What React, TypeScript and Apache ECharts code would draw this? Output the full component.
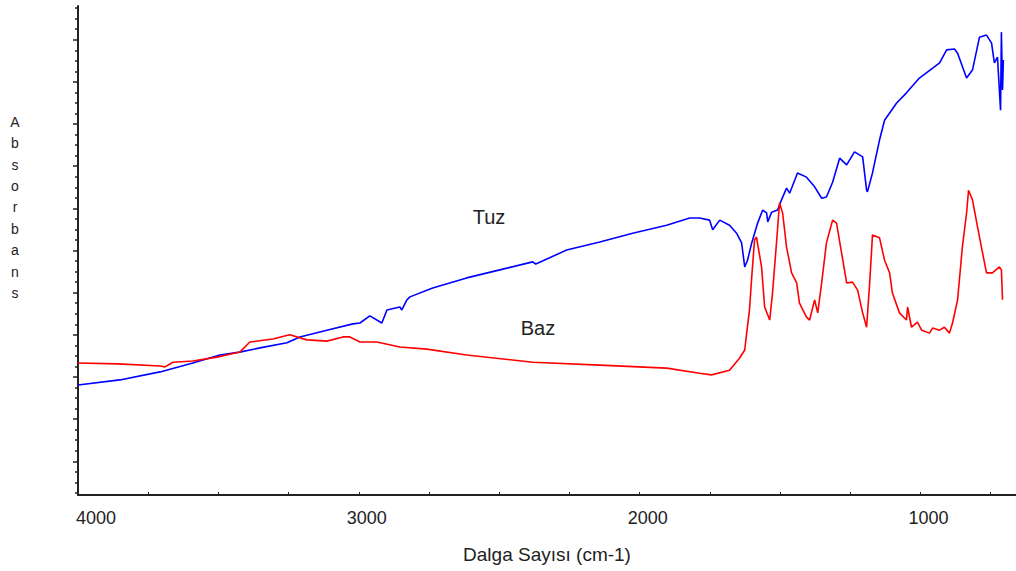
import React, { useEffect, useRef } from "react";
import * as echarts from "echarts";

// Wavenumber (cm-1) and absorbance readings
const tuzWave = [4000, 3851, 3708, 3591, 3495, 3424, 3352, 3256, 3210, 3114, 3021, 2996, 2961, 2918, 2900, 2854, 2847, 2829, 2818, 2737, 2616, 2498, 2381, 2370, 2260, 2142, 2025, 1904, 1822, 1787, 1751, 1740, 1715, 1680, 1655, 1637, 1626, 1616, 1601, 1580, 1562, 1548, 1544, 1530, 1509, 1495, 1477, 1466, 1438, 1406, 1377, 1352, 1335, 1313, 1288, 1263, 1235, 1206, 1192, 1189, 1171, 1146, 1128, 1085, 1050, 1004, 932, 907, 879, 868, 836, 815, 790, 765, 747, 737, 726, 715, 712, 708, 705];
const tuzAbs = [0.281, 0.293, 0.312, 0.333, 0.352, 0.359, 0.369, 0.381, 0.395, 0.411, 0.426, 0.428, 0.445, 0.428, 0.459, 0.466, 0.459, 0.483, 0.49, 0.511, 0.535, 0.554, 0.573, 0.568, 0.601, 0.62, 0.641, 0.66, 0.677, 0.677, 0.672, 0.649, 0.672, 0.66, 0.641, 0.618, 0.561, 0.577, 0.618, 0.665, 0.696, 0.689, 0.668, 0.691, 0.696, 0.72, 0.748, 0.736, 0.784, 0.774, 0.751, 0.724, 0.727, 0.762, 0.819, 0.803, 0.834, 0.822, 0.743, 0.739, 0.784, 0.862, 0.909, 0.95, 0.974, 1.009, 1.045, 1.076, 1.078, 1.068, 1.009, 1.028, 1.106, 1.111, 1.092, 1.045, 1.059, 0.933, 1.118, 0.981, 1.052];

const bazWave = [4000, 3858, 3708, 3690, 3662, 3591, 3505, 3424, 3388, 3306, 3246, 3185, 3114, 3057, 3032, 2996, 2936, 2854, 2758, 2616, 2381, 2142, 1904, 1787, 1744, 1680, 1644, 1626, 1619, 1609, 1601, 1591, 1584, 1566, 1555, 1537, 1527, 1512, 1502, 1491, 1477, 1459, 1441, 1431, 1406, 1395, 1377, 1366, 1352, 1335, 1313, 1299, 1281, 1263, 1242, 1224, 1206, 1192, 1181, 1171, 1146, 1128, 1110, 1100, 1075, 1050, 1046, 1032, 1011, 996, 968, 957, 932, 915, 897, 886, 868, 851, 836, 829, 815, 797, 779, 765, 744, 719, 712, 708];
const bazAbs = [0.333, 0.331, 0.326, 0.324, 0.335, 0.338, 0.347, 0.359, 0.383, 0.39, 0.4, 0.388, 0.385, 0.395, 0.395, 0.383, 0.383, 0.371, 0.366, 0.352, 0.335, 0.328, 0.321, 0.309, 0.305, 0.316, 0.345, 0.364, 0.404, 0.459, 0.537, 0.625, 0.632, 0.561, 0.466, 0.435, 0.499, 0.625, 0.713, 0.689, 0.608, 0.547, 0.523, 0.475, 0.442, 0.435, 0.483, 0.452, 0.523, 0.618, 0.672, 0.665, 0.594, 0.523, 0.525, 0.506, 0.452, 0.418, 0.523, 0.637, 0.63, 0.577, 0.547, 0.499, 0.452, 0.435, 0.466, 0.418, 0.43, 0.411, 0.404, 0.416, 0.411, 0.418, 0.404, 0.428, 0.483, 0.608, 0.689, 0.743, 0.72, 0.656, 0.594, 0.547, 0.547, 0.561, 0.554, 0.483];

const xTickValues = [4000, 3750, 3500, 3250, 3000, 2750, 2500, 2250, 2000, 1750, 1500, 1250, 1000, 750];
const xLabelValues = [4000, 3000, 2000, 1000];
const yMajorTicks = [0.1, 0.2, 0.3, 0.4, 0.5, 0.6, 0.7, 0.8, 0.9, 1.0, 1.1];
const yMinorTicks = [0.025, 0.05, 0.075, 0.125, 0.15, 0.175, 0.225, 0.25, 0.275, 0.325, 0.35, 0.375, 0.425, 0.45, 0.475, 0.525, 0.55, 0.575, 0.625, 0.65, 0.675, 0.725, 0.75, 0.775, 0.825, 0.85, 0.875, 0.925, 0.95, 0.975, 1.025, 1.05, 1.075, 1.125, 1.15, 1.175];

const FONT = "Liberation Sans, Arial, sans-serif";

export default function App() {
  const ref = useRef<HTMLDivElement>(null);
  useEffect(() => {
    if (!ref.current) return;
    const chart = echarts.init(ref.current, undefined, { renderer: "svg" });
    const tuz = tuzWave.map((w, i) => [w, tuzAbs[i]]);
    const baz = bazWave.map((w, i) => [w, bazAbs[i]]);
    const yBase = {
      type: "value",
      min: 0.02,
      max: 1.18,
      position: "left",
      splitLine: { show: false },
      axisLabel: { show: false },
    };
    chart.setOption({
      animation: false,
      backgroundColor: "#ffffff",
      grid: { left: 78, right: 0, top: 6, bottom: 76, containLabel: false },
      xAxis: {
        type: "value",
        inverse: true,
        min: 660,
        max: 4000,
        name: "Dalga Sayısı (cm-1)",
        nameLocation: "middle",
        nameGap: 50,
        nameTextStyle: { fontFamily: FONT, fontSize: 19, color: "#222" },
        axisLine: { show: true, onZero: false, lineStyle: { color: "#222", width: 2 } },
        axisTick: { show: true, inside: true, length: 3, customValues: xTickValues, lineStyle: { color: "#222" } },
        splitLine: { show: false },
        axisLabel: {
          customValues: xLabelValues,
          margin: 14,
          color: "#222",
          fontFamily: FONT,
          fontSize: 18,
          formatter: (v: number) => (v === 4000 ? "{first|" + v + "}" : "{n|" + v + "}"),
          rich: {
            first: { fontFamily: FONT, fontSize: 18, color: "#222", padding: [0, 0, 0, 36] },
            n: { fontFamily: FONT, fontSize: 18, color: "#222", padding: [0, 0, 0, 16] },
          },
        },
      },
      yAxis: [
        {
          ...yBase,
          axisLine: { show: true, lineStyle: { color: "#222", width: 2 } },
          axisTick: { show: true, length: 5, customValues: yMajorTicks, lineStyle: { color: "#222", width: 1.5 } },
        },
        {
          ...yBase,
          axisLine: { show: false },
          axisTick: { show: true, length: 3, customValues: yMinorTicks, lineStyle: { color: "#222", width: 1.5 } },
        },
      ],
      series: [
        {
          name: "Tuz",
          type: "line",
          data: tuz,
          yAxisIndex: 0,
          showSymbol: false,
          symbol: "none",
          lineStyle: { color: "#0000ff", width: 1.6 },
        },
        {
          name: "Baz",
          type: "line",
          data: baz,
          yAxisIndex: 0,
          showSymbol: false,
          symbol: "none",
          lineStyle: { color: "#ff0000", width: 1.6 },
        },
      ],
      graphic: [
        {
          type: "text",
          x: 15,
          y: 111,
          style: {
            text: "A\nb\ns\no\nr\nb\na\nn\ns",
            fontFamily: FONT,
            fontSize: 14,
            lineHeight: 21.4,
            fill: "#222",
            align: "center",
            verticalAlign: "top",
          },
        },
        {
          type: "text",
          x: 489,
          y: 217,
          style: { text: "Tuz", fontFamily: FONT, fontSize: 20, fill: "#222", align: "center", verticalAlign: "middle" },
        },
        {
          type: "text",
          x: 538,
          y: 328,
          style: { text: "Baz", fontFamily: FONT, fontSize: 20, fill: "#222", align: "center", verticalAlign: "middle" },
        },
      ],
    });
    return () => chart.dispose();
  }, []);
  return (
    <div
      ref={ref}
      style={{ position: "fixed", left: 0, top: 0, width: 1016, height: 571, background: "#fff" }}
    />
  );
}
